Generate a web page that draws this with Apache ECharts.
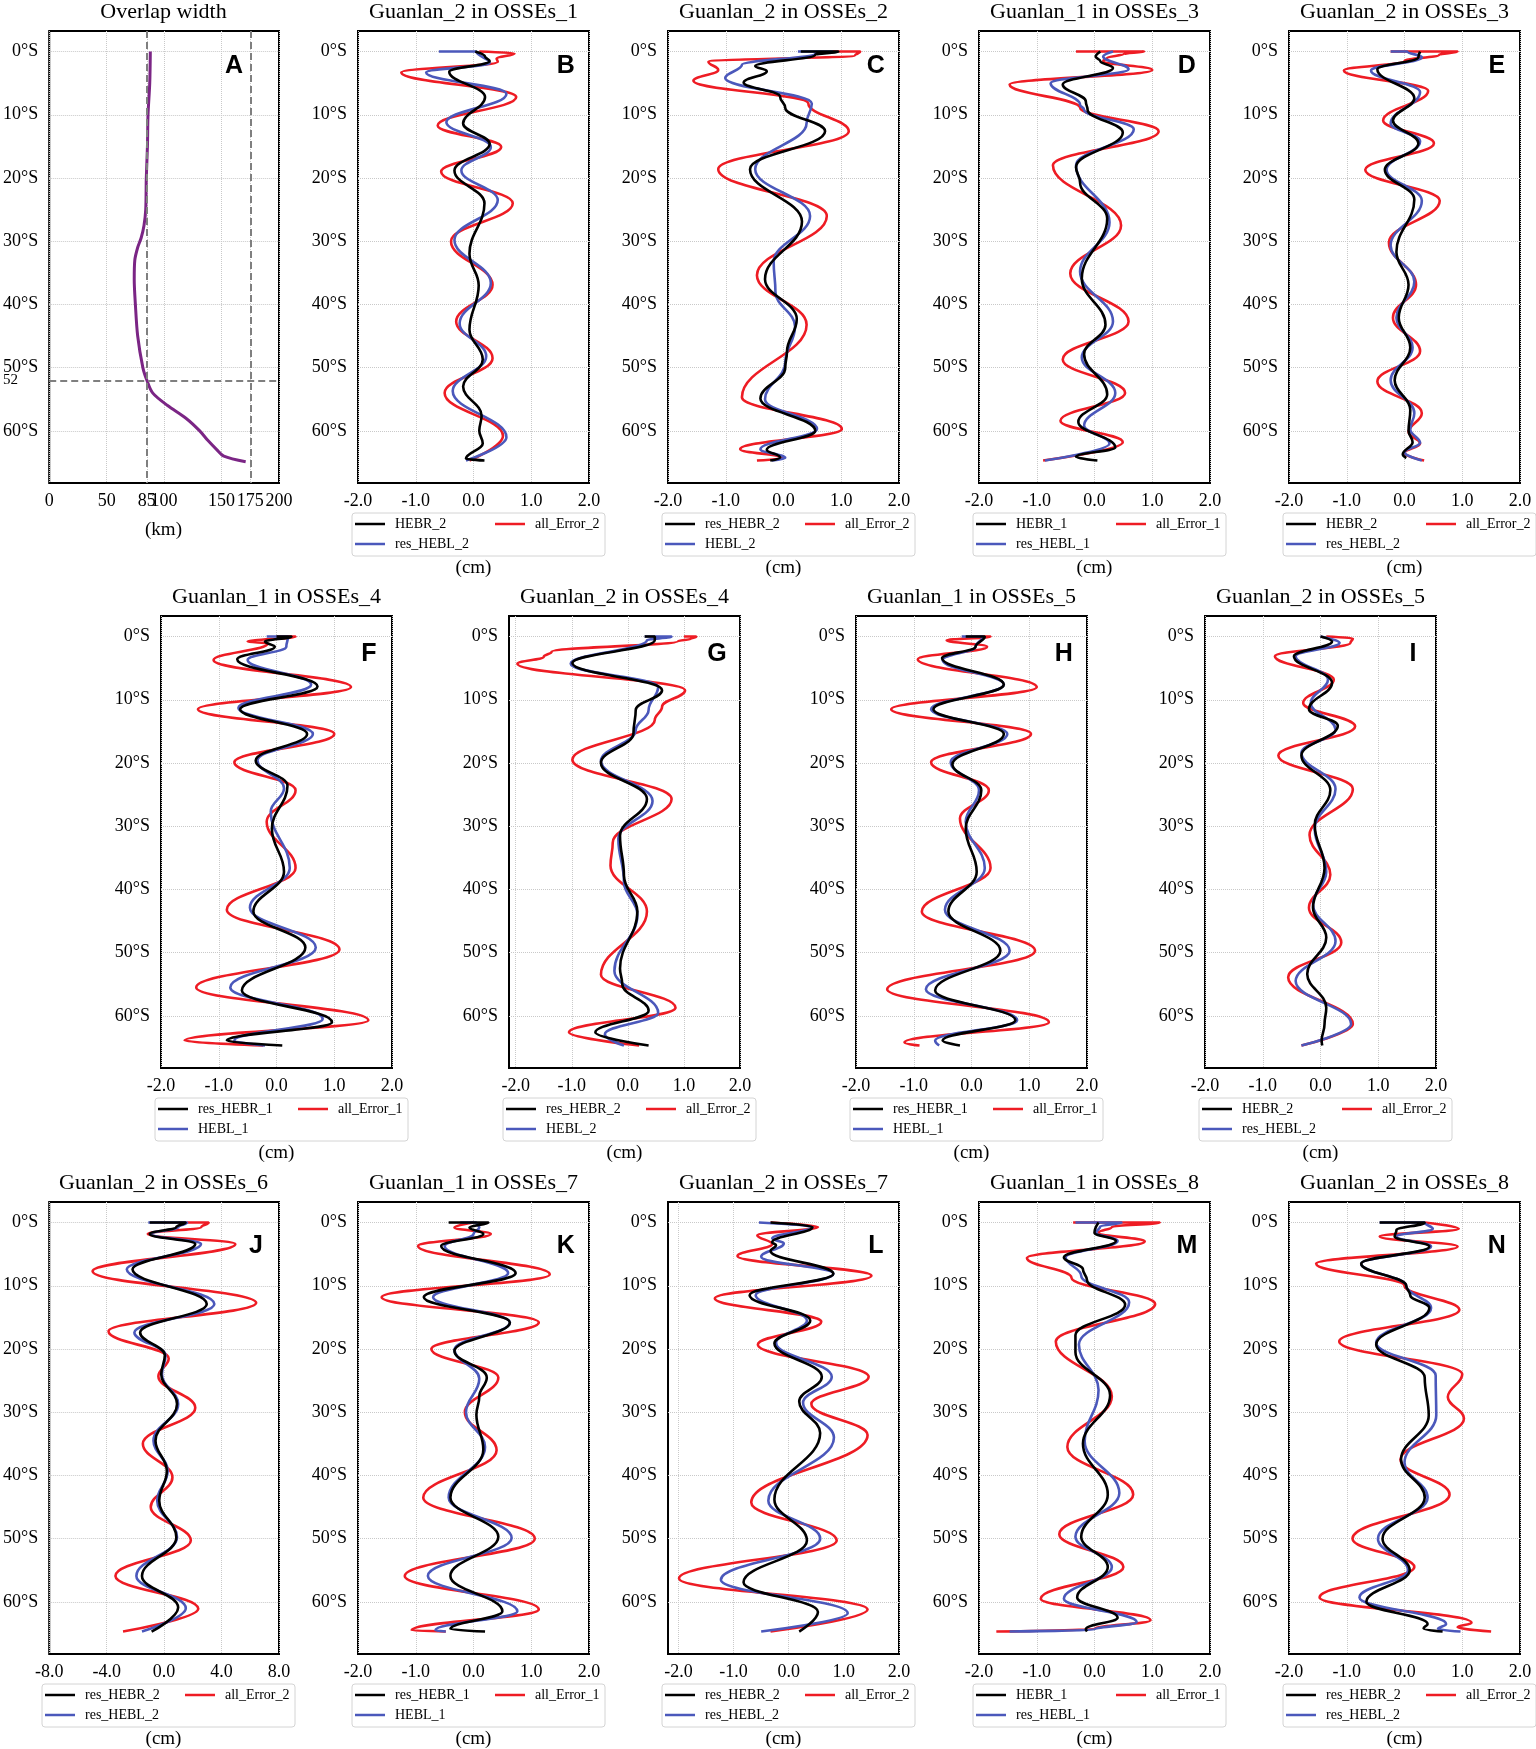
<!DOCTYPE html>
<html><head><meta charset="utf-8">
<script src="https://cdn.jsdelivr.net/npm/echarts@6/dist/echarts.min.js"></script>
<style>html,body{margin:0;padding:0;background:#fff}#c{width:1536px;height:1749px}</style>
</head><body><div id="c"></div>
<script>
// ---------- tick labels ----------
const latTicks = [0, 10, 20, 30, 40, 50, 60];
const overlapTicks = [0, 50, 85, 100, 150, 175, 200];
const cmTicks = [-2, -1, 0, 1, 2];
const cmTicksWide = [-8, -4, 0, 4, 8];

// ---------- data: [latitude (°S), value] ----------
const A_overlap = [[0,88],[5,87.5],[10,86],[15,85.5],[20,84.5],[25,84],[27.5,82.5],[29.5,80],[31,77],[33,74.5],[36,74],[40,75],[45,77],[50,81.5],[52,85],[54,90],[56,103],[58,119],[60,131],[61.5,138],[63,146],[64,152],[64.9,171]];

const B_black = [[0,0.03],[0.8,0.2],[1.5,0.28],[3.2,-0.42],[7.2,0.2],[11.4,-0.18],[14.6,0.28],[18.8,-0.33],[24,0.19],[32,-0.07],[37,0.09],[44,-0.07],[48.7,0.16],[53,-0.18],[57.6,0.14],[60,0.1],[62,0.16],[64.4,-0.13],[64.7,0.19]];
const B_blue = [[0,-0.6],[0,0.05],[1.8,0.28],[3.3,-0.82],[6.7,0.57],[11.2,-0.47],[15.1,0.3],[18.8,-0.21],[23.5,0.42],[29.8,-0.33],[36.6,0.3],[43,-0.24],[48.2,0.22],[53.7,-0.36],[61,0.57],[64.7,-0.13]];
const B_red = [[0,0.1],[0.3,0.71],[1.1,0.4],[1.6,0.42],[3.3,-1.25],[7.2,0.74],[11.7,-0.62],[15.1,0.48],[19,-0.56],[24,0.68],[30,-0.39],[36.9,0.33],[42.7,-0.3],[48.5,0.33],[54,-0.5],[60.8,0.51],[64.7,-0.07]];

const C_black = [[0,0.3],[0,0.95],[0.5,0.55],[2.3,-0.49],[3.1,-0.29],[4.9,-0.69],[7.1,-0.06],[8.9,0.03],[12.6,0.72],[18.6,-0.58],[26.9,0.32],[36,-0.32],[42.3,0.23],[47.5,0.06],[50,0.03],[54.9,-0.4],[60,0.55],[63,-0.29],[64.2,-0.06],[64.7,-0.23]];
const C_blue = [[0,0.25],[0,0.85],[0.3,0.55],[2.1,-0.72],[4.2,-1.01],[8.2,0.49],[11.3,0.4],[18.6,-0.49],[26,0.46],[33.3,-0.17],[38,-0.14],[43.5,0.2],[49.2,0.03],[55,-0.32],[59.7,0.58],[62.9,-0.4],[64.3,0.03],[64.7,-0.2]];
const C_red = [[0,0.85],[0,1.33],[0.6,1.24],[1.6,-1.3],[2.9,-1.13],[4.6,-1.56],[8.2,0.43],[12.6,1.13],[18.6,-1.13],[26,0.75],[35.4,-0.46],[43.2,0.4],[54.7,-0.72],[59.7,1.01],[62.9,-0.75],[64.3,0.0],[64.7,-0.46]];

const D_black = [[0,0.1],[0.8,0.02],[1.5,0.1],[2.6,0.32],[5.2,-0.55],[7.9,-0.15],[9.2,-0.12],[12.8,0.49],[18.3,-0.32],[20.7,-0.25],[26.4,0.22],[35.9,-0.22],[43.2,0.19],[47.9,-0.18],[54.2,0.22],[58.6,-0.28],[62.6,0.36],[64.1,-0.32],[64.7,0.05]];
const D_blue = [[0,0.32],[0.8,0.15],[2.8,0.59],[5,-0.76],[8.4,-0.25],[9.2,-0.18],[12.3,0.68],[18,-0.32],[27,0.26],[34.8,-0.25],[42.7,0.32],[48.4,-0.22],[54,0.36],[59.2,-0.18],[62,0.26],[64.7,-0.86]];
const D_red = [[0,-0.32],[0,0.86],[0.4,0.5],[1,0.22],[1.5,0.15],[2.9,1.0],[5.2,-1.47],[8.9,-0.25],[12.6,1.11],[18,-0.72],[27.5,0.46],[35.1,-0.42],[42.7,0.59],[48.7,-0.55],[54,0.53],[58.4,-0.59],[61.8,0.49],[64.7,-0.89]];

const E_black = [[0,0.27],[0.9,0.24],[2.8,-0.47],[7.4,0.17],[10.9,-0.2],[14.5,0.24],[18.7,-0.34],[23.4,0.17],[31.7,-0.14],[36.9,0.07],[42.1,-0.1],[46.8,0.1],[52,-0.17],[56.7,0.1],[60,0.07],[61.8,0.14],[63.7,-0.03],[64.3,0.03]];
const E_blue = [[0,-0.24],[0,0.05],[0.9,0.3],[3,-0.58],[6.4,0.27],[11.4,-0.24],[14.2,0.27],[18.7,-0.31],[23.6,0.3],[30.7,-0.24],[36.4,0.17],[42.1,-0.14],[46.8,0.14],[52,-0.24],[57.2,0.17],[59.8,0.1],[61.9,0.27],[63.4,0.0],[64.7,0.3]];
const E_red = [[0,-0.24],[0,0.92],[0.5,0.6],[1.5,0.0],[3,-1.05],[6.2,0.41],[10.9,-0.37],[14.5,0.51],[18.7,-0.68],[23.6,0.61],[30.2,-0.27],[36.9,0.2],[42.1,-0.2],[47.4,0.27],[52.2,-0.47],[57.2,0.3],[60.2,0.07],[62,0.27],[63.5,0.0],[64.7,0.34]];

const F_black = [[0,0.0],[0,0.26],[0.8,-0.2],[1.6,-0.03],[3.6,-0.68],[7.9,0.71],[11.5,-0.63],[15.4,0.53],[19.6,-0.36],[23.6,0.19],[30.4,-0.08],[37.2,0.13],[43.5,-0.4],[49.2,0.5],[56,-0.6],[61,0.96],[63.9,-0.86],[64.7,0.1]];
const F_blue = [[0,-0.17],[0,0.2],[1.6,0.17],[3.7,-0.5],[7.6,0.6],[11.3,-0.66],[15.4,0.63],[19.6,-0.33],[24,0.13],[27.7,-0.1],[36.6,0.23],[42.9,-0.46],[49.2,0.68],[55.5,-0.8],[60.5,0.8],[63.9,-0.73],[64.7,-0.2]];
const F_red = [[0,0.0],[0,0.33],[0.8,-0.5],[1.1,-0.15],[3.7,-1.09],[8,1.29],[11.5,-1.36],[15.4,1.0],[19.9,-0.73],[24.3,0.33],[29.3,-0.17],[36.6,0.33],[43.2,-0.86],[49.5,1.09],[55.5,-1.39],[60.7,1.59],[63.9,-1.59],[64.7,-0.23]];

const G_black = [[0,0.3],[0,0.48],[0.6,0.48],[4.2,-0.99],[8.5,0.61],[11.6,0.14],[15.3,0.1],[20,-0.48],[25.7,0.34],[31.5,-0.14],[37.8,-0.07],[43.5,0.17],[52.5,-0.14],[55,-0.1],[59.2,0.37],[62.6,-0.58],[64.7,0.37]];
const G_blue = [[0,0.3],[0,0.78],[0.6,0.34],[4.3,-1.02],[8,0.54],[11.6,0.37],[14.8,0.14],[19.7,-0.48],[26,0.44],[32,-0.17],[38.8,-0.07],[44,0.17],[52.9,-0.24],[59.5,0.54],[62.9,-0.41],[64.7,-0.07]];
const G_red = [[0,1.0],[0,1.22],[0.4,1.12],[0.7,0.9],[2.4,-1.36],[3.2,-1.5],[4.3,-1.97],[8.5,1.02],[11.1,0.61],[13.2,0.48],[19.5,-0.99],[25.7,0.78],[32.6,-0.27],[36.2,-0.31],[43.5,0.34],[53.5,-0.48],[58.7,0.85],[62.6,-1.05],[64.7,0.2]];

const H_black = [[0,-0.1],[0,0.23],[1.6,0.07],[3.4,-0.51],[7.6,0.56],[11.5,-0.66],[15.4,0.56],[20.2,-0.33],[24.3,0.17],[30.4,-0.1],[37.2,0.09],[43.5,-0.4],[49.7,0.5],[56,-0.63],[60.7,0.76],[63.9,-0.5],[64.7,-0.2]];
const H_blue = [[0,-0.17],[0,0.2],[1.6,0.07],[3.7,-0.5],[7.6,0.56],[11.5,-0.7],[15.4,0.62],[19.9,-0.36],[24.3,0.13],[29.3,-0.1],[36.6,0.23],[43.2,-0.46],[49.7,0.66],[55.8,-0.79],[60.7,0.79],[63.9,-0.63],[64.7,-0.56]];
const H_red = [[0,0.0],[0,0.33],[0.6,-0.43],[1.6,0.27],[3.6,-0.93],[8,1.13],[11.5,-1.39],[15.4,1.03],[19.9,-0.7],[24.3,0.3],[28.8,-0.2],[36.6,0.33],[43.5,-0.86],[49.7,1.1],[55.8,-1.46],[61,1.34],[64.2,-1.16],[64.7,-0.9]];

const I_black = [[0,0.0],[0.8,0.2],[3.1,-0.46],[7.3,0.2],[11.5,-0.2],[14.1,0.3],[18.8,-0.33],[24.3,0.17],[29.8,-0.1],[36.6,0.07],[42.9,-0.13],[47.6,0.1],[53.4,-0.23],[58.7,0.1],[61.3,0.07],[63.9,0.02],[64.7,0.03]];
const I_blue = [[0,0.0],[1.0,0.33],[3.1,-0.43],[6.8,0.13],[10.5,-0.17],[14.7,0.26],[18.4,-0.33],[24.1,0.26],[30.4,-0.1],[37.2,0.1],[42.4,-0.13],[48.2,0.26],[54.5,-0.43],[61.3,0.53],[64.7,-0.33]];
const I_red = [[0,0.1],[0.3,0.56],[1.0,0.52],[3.1,-0.79],[6.8,0.23],[10.5,-0.3],[14.2,0.6],[18.8,-0.73],[24.1,0.56],[31.4,-0.19],[37.7,0.17],[42.9,-0.2],[48.4,0.36],[53.9,-0.56],[61.3,0.56],[64.7,-0.33]];

const J_black = [[0,-1.0],[0,1.5],[0.7,0.85],[1.8,-1.0],[3.4,2.17],[7.4,-2.2],[12.9,2.97],[17.4,-1.67],[21,0.05],[24,-0.2],[28.7,0.9],[34.5,-0.6],[39.3,0.19],[44,-0.34],[49.8,0.85],[55.9,-1.54],[60.9,0.98],[64.7,-0.87]];
const J_blue = [[0,-1.1],[0,1.6],[0.7,1.0],[1.8,-0.9],[3.4,2.57],[7.4,-2.6],[12.9,3.5],[17.4,-2.07],[21,0.1],[24,-0.15],[28.7,0.98],[34.5,-0.74],[39.3,0.25],[44,-0.48],[49.8,0.9],[55.9,-1.93],[61,1.51],[64.7,-1.54]];
const J_red = [[0,1.0],[0,3.1],[0.7,2.6],[1.8,-1.14],[3.4,4.96],[7.7,-4.98],[12.7,6.41],[17.2,-3.87],[21.5,0.32],[24.3,-0.4],[29.3,2.17],[35,-1.48],[40.3,0.58],[45,-0.93],[50.3,1.86],[55.9,-3.39],[61.1,2.38],[64.7,-2.86]];

const K_black = [[0,-0.43],[0,0.26],[0.8,-0.07],[1.8,0.17],[3.7,-0.56],[8,0.73],[11.8,-0.86],[15.8,0.63],[20.3,-0.33],[24.5,0.23],[27.5,0.1],[30.4,0.05],[35.9,0.17],[43.5,-0.4],[49.7,0.43],[55.9,-0.4],[61.5,0.5],[64.3,-0.4],[64.7,0.2]];
const K_blue = [[0,-0.23],[0,0.05],[0.8,0.1],[1.8,0.0],[3.7,-0.5],[8,0.6],[11.8,-0.7],[15.8,0.63],[20.1,-0.33],[24.7,0.1],[30,-0.13],[35.5,0.2],[43.5,-0.43],[49.9,0.66],[55.9,-0.79],[61.5,0.76],[64.5,-0.66],[64.7,-0.48]];
const K_red = [[0,0.0],[0.8,-0.33],[1.8,0.3],[3.7,-0.96],[8.2,1.32],[11.8,-1.59],[15.8,1.13],[20,-0.73],[24.5,0.43],[30,-0.15],[36,0.4],[43.5,-0.87],[50,1.06],[55.9,-1.19],[61.2,1.13],[64.5,-1.07],[64.7,-0.48]];

const L_black = [[0,-0.33],[0.7,0.43],[3.1,-0.3],[3.6,-0.23],[4.5,-0.33],[8.1,0.81],[11.5,-0.71],[15.5,0.39],[19.1,-0.26],[24.4,0.6],[28.3,0.19],[33.3,0.57],[43.8,-0.26],[50.3,0.33],[56.9,-0.82],[61.6,0.53],[64.7,0.19]];
const L_blue = [[0,-0.54],[0.7,0.43],[2.5,-0.3],[3.3,-0.09],[5.4,-0.5],[8.1,0.81],[11.5,-0.6],[15.5,0.33],[19,-0.23],[24.4,0.78],[28.5,0.26],[34,0.82],[44,-0.37],[50,0.57],[56.5,-1.23],[61.8,1.07],[64.7,-0.5]];
const L_red = [[0,-0.33],[0.7,0.53],[2,-0.57],[3.4,-0.3],[5.3,-0.93],[8.4,1.5],[12,-1.34],[15.7,0.59],[19.3,-0.56],[24.4,1.45],[28.7,0.41],[33.6,1.43],[44.3,-0.68],[50.3,0.87],[56.3,-1.99],[61.2,1.43],[64.7,-0.33]];

const M_black = [[0,0.07],[1.6,0.0],[2.9,0.37],[5.5,-0.53],[7.4,-0.2],[9.1,-0.13],[13,0.53],[17.8,-0.33],[20.5,-0.33],[27.3,0.27],[35,-0.2],[43,0.23],[49.7,-0.23],[54.5,0.23],[59.3,-0.3],[62.5,0.4],[64.3,-0.15],[64.7,-0.13]];
const M_blue = [[0,-0.33],[0,0.47],[0.6,0.1],[1.6,0.03],[2.9,0.4],[5.5,-0.5],[8.4,-0.23],[12.6,0.6],[19.3,-0.27],[26.5,0.07],[34.6,-0.17],[42.8,0.43],[49.7,-0.33],[54.5,0.3],[59.5,-0.53],[63.2,0.73],[64.4,0.0],[64.7,-1.47]];
const M_red = [[0,-0.37],[0,1.13],[0.7,0.3],[1.6,0.07],[3,0.87],[5.6,-1.17],[8.7,-0.4],[12.9,1.05],[18.8,-0.67],[27.5,0.3],[35.5,-0.47],[43,0.67],[49.3,-0.61],[54.5,0.5],[59.5,-0.93],[62.9,0.97],[64.3,0.0],[64.7,-1.7]];

const N_black = [[0,-0.43],[0,0.35],[1.2,-0.14],[2.2,-0.17],[3.8,0.43],[6.5,-0.75],[10,0.03],[11.5,0.1],[13.5,0.43],[19.3,-0.49],[24.5,0.35],[30.5,0.42],[37.5,-0.06],[43.5,0.35],[50,-0.38],[55,0.09],[60,-0.66],[63.5,0.4],[64.2,0.33],[64.7,0.66]];
const N_blue = [[0,-0.43],[0,0.35],[1.0,0.49],[2.2,-0.14],[3.8,0.46],[6.5,-0.75],[10,0.03],[13.5,0.46],[19,-0.49],[24.2,0.54],[30.5,0.55],[38,0.0],[43.5,0.4],[50,-0.46],[55,0.06],[59.3,-0.78],[63.5,0.72],[64.3,0.58],[64.7,0.97]];
const N_red = [[0,0.35],[1.0,0.94],[2.2,-0.43],[3.8,0.92],[6.5,-1.53],[10,0.0],[13.8,0.95],[18.8,-1.13],[24,1.0],[27.6,0.75],[31,1.03],[37.5,-0.07],[43,0.78],[50,-0.9],[54.5,0.17],[59.3,-1.47],[63.3,1.16],[64,0.92],[64.7,1.5]];

// ---------- panel descriptions ----------
const panels = [
  {k:'B', t:'Guanlan_2 in OSSEs_1', n:['HEBR_2','res_HEBL_2','all_Error_2'], d:[B_black,B_blue,B_red], r:0, c:1},
  {k:'C', t:'Guanlan_2 in OSSEs_2', n:['res_HEBR_2','HEBL_2','all_Error_2'], d:[C_black,C_blue,C_red], r:0, c:2},
  {k:'D', t:'Guanlan_1 in OSSEs_3', n:['HEBR_1','res_HEBL_1','all_Error_1'], d:[D_black,D_blue,D_red], r:0, c:3},
  {k:'E', t:'Guanlan_2 in OSSEs_3', n:['HEBR_2','res_HEBL_2','all_Error_2'], d:[E_black,E_blue,E_red], r:0, c:4},
  {k:'F', t:'Guanlan_1 in OSSEs_4', n:['res_HEBR_1','HEBL_1','all_Error_1'], d:[F_black,F_blue,F_red], r:1, c:0},
  {k:'G', t:'Guanlan_2 in OSSEs_4', n:['res_HEBR_2','HEBL_2','all_Error_2'], d:[G_black,G_blue,G_red], r:1, c:1, xmin:-2.12, xmax:2.0},
  {k:'H', t:'Guanlan_1 in OSSEs_5', n:['res_HEBR_1','HEBL_1','all_Error_1'], d:[H_black,H_blue,H_red], r:1, c:2},
  {k:'I', t:'Guanlan_2 in OSSEs_5', n:['HEBR_2','res_HEBL_2','all_Error_2'], d:[I_black,I_blue,I_red], r:1, c:3},
  {k:'J', t:'Guanlan_2 in OSSEs_6', n:['res_HEBR_2','res_HEBL_2','all_Error_2'], d:[J_black,J_blue,J_red], r:2, c:0, xmin:-8, xmax:8, ticks:cmTicksWide},
  {k:'K', t:'Guanlan_1 in OSSEs_7', n:['res_HEBR_1','HEBL_1','all_Error_1'], d:[K_black,K_blue,K_red], r:2, c:1},
  {k:'L', t:'Guanlan_2 in OSSEs_7', n:['res_HEBR_2','res_HEBL_2','all_Error_2'], d:[L_black,L_blue,L_red], r:2, c:2, xmin:-2.19, xmax:2.0},
  {k:'M', t:'Guanlan_1 in OSSEs_8', n:['HEBR_1','res_HEBL_1','all_Error_1'], d:[M_black,M_blue,M_red], r:2, c:3},
  {k:'N', t:'Guanlan_2 in OSSEs_8', n:['res_HEBR_2','res_HEBL_2','all_Error_2'], d:[N_black,N_blue,N_red], r:2, c:4}
];

// ---------- layout ----------
const SERIF = "'Liberation Serif','Times New Roman',serif";
const SANS = "'Liberation Sans',Arial,sans-serif";
const rowTop = [31, 616, 1202];
const plotH = 452;
const plotW = 231;
const colLeft = [[48,358,668,979,1289],[161,509,856,1205],[48,358,668,979,1289]];
const letterDy = [35, 38, 44];
const lineColors = ['#000000', '#4b58bb', '#ee1c24'];

const grids = [], xAxes = [], yAxes = [], series = [], legends = [], elements = [];

function txt(x, y, s, size, family, weight, align) {
  elements.push({type:'text', x:x, y:y, silent:true, z:10,
    style:{text:s, fontSize:size, fontFamily:family, fontWeight:weight||'normal', fill:'#000',
      align:align||'center', verticalAlign:'middle', textAlign:align||'center', textVerticalAlign:'middle'}});
}

function addAxes(gi, left, top, xmin, xmax, xticks, xfmt) {
  grids.push({left:left, top:top, width:plotW, height:plotH, show:true, borderColor:'#000', borderWidth:2, backgroundColor:'rgba(0,0,0,0)'});
  xAxes.push({type:'value', gridIndex:gi, min:xmin, max:xmax, position:'bottom',
    axisLine:{show:false, onZero:false},
    axisTick:{show:false, customValues:xticks},
    axisLabel:{customValues:xticks, formatter:xfmt, fontFamily:SERIF, fontSize:18, color:'#000', margin:9},
    splitLine:{show:true, lineStyle:{color:'#c9c9c9', type:'dotted', width:1}}});
  yAxes.push({type:'value', gridIndex:gi, inverse:true, min:-3.25, max:68.25, position:'left',
    axisLine:{show:false, onZero:false},
    axisTick:{show:false, customValues:latTicks},
    axisLabel:{customValues:latTicks, formatter:v => v + '°S', fontFamily:SERIF, fontSize:18, color:'#000', margin:11},
    splitLine:{show:true, lineStyle:{color:'#c9c9c9', type:'dotted', width:1}}});
}

// Panel A
{
  const left = colLeft[0][0], top = rowTop[0];
  addAxes(0, left, top, 0, 200, overlapTicks, v => String(v));
  series.push({type:'line', name:'Overlap width', xAxisIndex:0, yAxisIndex:0,
    data:A_overlap.map(p => [p[1], p[0]]), smooth:0.3, symbol:'none', animation:false,
    lineStyle:{color:'#7b2585', width:3}, itemStyle:{color:'#7b2585'},
    markLine:{silent:true, symbol:['none','none'], animation:false, label:{show:false},
      lineStyle:{color:'#7f7f7f', type:[7,4], width:2},
      data:[{xAxis:85},{xAxis:175},{yAxis:52}]}});
  txt(left + plotW/2, top - 19, 'Overlap width', 22, SERIF);
  txt(left + 186, top + letterDy[0], 'A', 25, SANS, 'bold');
  txt(left + plotW/2, top + plotH + 47, '(km)', 19, SERIF);
  txt(3, top + 3.25*plotH/71.5 + 52*plotH/71.5, '52', 15, SERIF, 'normal', 'left');
}

panels.forEach((p, i) => {
  const gi = i + 1;
  const left = colLeft[p.r][p.c], top = rowTop[p.r];
  const ticks = p.ticks || cmTicks;
  addAxes(gi, left, top, p.xmin !== undefined ? p.xmin : -2, p.xmax !== undefined ? p.xmax : 2, ticks, v => v.toFixed(1));
  // draw red, blue, black (black on top)
  [2, 1, 0].forEach(j => {
    series.push({type:'line', name:p.n[j], xAxisIndex:gi, yAxisIndex:gi,
      data:p.d[j].map(q => [q[1], q[0]]), smooth:0.42, smoothMonotone:'y',
      symbol:'none', showSymbol:false, animation:false,
      lineStyle:{color:lineColors[j], width:2.6}, itemStyle:{color:lineColors[j]}});
  });
  txt(left + plotW/2, top - 19, p.t, 22, SERIF);
  txt(left + 0.9*plotW, top + letterDy[p.r], p.k, 25, SANS, 'bold');
  txt(left + plotW/2, top + plotH + 85, '(cm)', 19, SERIF);
  // legend box
  const bx = left - 6, by = top + plotH + 30;
  elements.push({type:'rect', silent:true, z:1, shape:{x:bx, y:by, width:253, height:43, r:3},
    style:{fill:'#fff', stroke:'#d4d4d4', lineWidth:1}});
  const pos = [[bx + 3, by + 11], [bx + 3, by + 31], [bx + 143, by + 11]];
  [0, 1, 2].forEach(j => {
    legends.push({show:true, left:pos[j][0], top:pos[j][1] - 8, padding:0, itemGap:0,
      icon:'rect', itemWidth:30, itemHeight:2.5, selectedMode:false, z:20,
      textStyle:{fontFamily:SERIF, fontSize:14, color:'#000', lineHeight:16, padding:[0,0,0,5]},
      data:[p.n[j]]});
  });
});

const chart = echarts.init(document.getElementById('c'), null, {renderer:'canvas'});
chart.setOption({
  animation:false,
  backgroundColor:'#fff',
  grid:grids, xAxis:xAxes, yAxis:yAxes, series:series, legend:legends,
  graphic:{elements:elements}
});
</script>
</body></html>
